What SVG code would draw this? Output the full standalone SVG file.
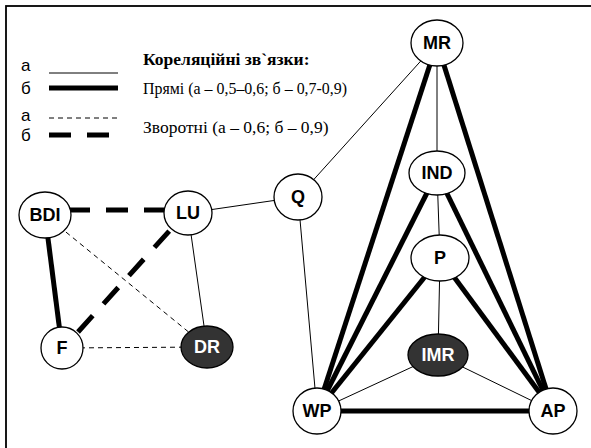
<svg xmlns="http://www.w3.org/2000/svg" width="591" height="448" viewBox="0 0 591 448">
<style>
.n{fill:#fff;stroke:#000;stroke-width:1.3}
.d{fill:#333;stroke:#000;stroke-width:1.3}
.t{font-family:"Liberation Sans",Arial,sans-serif;font-weight:bold;font-size:18px;text-anchor:middle;dominant-baseline:central;fill:#000}
.tw{fill:#fff}
.thin{stroke:#000;stroke-width:1;fill:none}
.thick{stroke:#000;stroke-width:5;fill:none}
.dthin{stroke:#000;stroke-width:1;stroke-dasharray:5 4;fill:none}
.dthick{stroke:#000;stroke-width:5;stroke-dasharray:22 16;fill:none}
.lg{font-family:"Liberation Sans",Arial,sans-serif;font-size:17px;fill:#000}
.sr{font-family:"Liberation Serif","Times New Roman",serif;font-size:17.5px;fill:#000}
</style>
<rect x="6" y="6" width="620" height="500" fill="#fff" stroke="#000" stroke-width="1.8"/>
<g id="legend">
<text class="lg" x="21" y="71">а</text>
<text class="lg" x="21" y="94">б</text>
<text class="lg" x="21" y="121">а</text>
<text class="lg" x="21" y="141">б</text>
<line class="thin" x1="49" y1="73" x2="118" y2="73"/>
<line class="thick" x1="49" y1="88" x2="118" y2="88"/>
<line class="dthin" x1="49" y1="118" x2="118" y2="118"/>
<line class="dthick" x1="49" y1="135" x2="118" y2="135"/>
<text class="sr" x="143" y="65" font-weight="bold">Кореляційні зв`язки:</text>
<text class="sr" x="143" y="94" textLength="204" lengthAdjust="spacingAndGlyphs">Прямі (а – 0,5–0,6; б – 0,7-0,9)</text>
<text class="sr" x="143" y="133">Зворотні (а – 0,6; б – 0,9)</text>
</g>
<g id="connectors">
<line class="thin" x1="437" y1="43" x2="298" y2="197"/>
<line class="thin" x1="437" y1="43" x2="437" y2="173"/>
<line class="thin" x1="437" y1="173" x2="440" y2="258"/>
<line class="thin" x1="440" y1="258" x2="438" y2="355"/>
<line class="thin" x1="438" y1="355" x2="317" y2="411"/>
<line class="thin" x1="438" y1="355" x2="553" y2="411"/>
<line class="thin" x1="298" y1="197" x2="317" y2="411"/>
<line class="thin" x1="298" y1="197" x2="188" y2="213"/>
<line class="thin" x1="188" y1="213" x2="207" y2="347"/>
<line class="thick" x1="45" y1="215" x2="62" y2="348"/>
<line class="thick" x1="437" y1="43" x2="317" y2="411"/>
<line class="thick" x1="437" y1="43" x2="553" y2="411"/>
<line class="thick" x1="437" y1="173" x2="317" y2="411"/>
<line class="thick" x1="437" y1="173" x2="553" y2="411"/>
<line class="thick" x1="440" y1="258" x2="317" y2="411"/>
<line class="thick" x1="440" y1="258" x2="553" y2="411"/>
<line class="thick" x1="317" y1="411" x2="553" y2="411"/>
<line class="dthin" x1="45" y1="215" x2="207" y2="347"/>
<line class="dthin" x1="62" y1="348" x2="207" y2="347"/>
<line class="dthick" x1="68" y1="210" x2="164" y2="210"/>
<line class="dthick" x1="78" y1="332" x2="172" y2="228"/>
</g>
<g id="MR"><ellipse class="n" cx="437" cy="43" rx="26" ry="23"/><text class="t" x="437" y="43">MR</text></g>
<g id="IND"><ellipse class="n" cx="437" cy="173" rx="28" ry="22"/><text class="t" x="437" y="173">IND</text></g>
<g id="P"><ellipse class="n" cx="440" cy="258" rx="29" ry="23"/><text class="t" x="440" y="258">P</text></g>
<g id="IMR"><ellipse class="d" cx="438" cy="355" rx="30" ry="21"/><text class="t tw" x="438" y="355">IMR</text></g>
<g id="WP"><ellipse class="n" cx="317" cy="411" rx="24" ry="23"/><text class="t" x="317" y="411">WP</text></g>
<g id="AP"><ellipse class="n" cx="553" cy="411" rx="24" ry="23"/><text class="t" x="553" y="411">AP</text></g>
<g id="Q"><ellipse class="n" cx="298" cy="197" rx="24" ry="23"/><text class="t" x="298" y="197">Q</text></g>
<g id="LU"><ellipse class="n" cx="188" cy="213" rx="24" ry="22"/><text class="t" x="188" y="213">LU</text></g>
<g id="BDI"><ellipse class="n" cx="45" cy="215" rx="26" ry="23"/><text class="t" x="45" y="215">BDI</text></g>
<g id="F"><ellipse class="n" cx="62" cy="348" rx="21" ry="21"/><text class="t" x="62" y="348">F</text></g>
<g id="DR"><ellipse class="d" cx="207" cy="347" rx="26" ry="21"/><text class="t tw" x="207" y="347">DR</text></g>
</svg>
